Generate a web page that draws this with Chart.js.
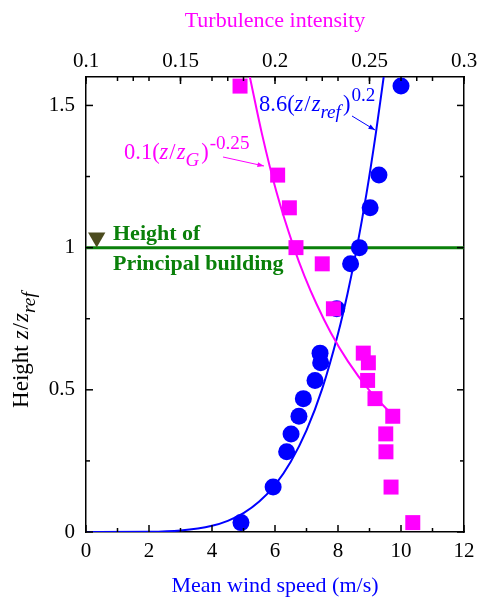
<!DOCTYPE html>
<html>
<head>
<meta charset="utf-8">
<script src="https://cdn.jsdelivr.net/npm/chart.js@4.4.1/dist/chart.umd.min.js"></script>
<style>
  html, body { margin: 0; padding: 0; background: #fff; }
  #wrap { width: 477px; height: 599px; }
</style>
</head>
<body>
<div id="wrap"><canvas id="profile" width="477" height="599"></canvas></div>
<script>
// Measured heights (z/zref), shared by both profiles
const heights = [0.033, 0.158, 0.282, 0.345, 0.407, 0.469, 0.533, 0.595, 0.629, 0.785, 0.943, 1.0, 1.14, 1.255, 1.568];
// Mean wind speed (m/s) at each height
const windSpeed = [4.92, 5.94, 6.37, 6.51, 6.76, 6.90, 7.27, 7.45, 7.43, 7.96, 8.40, 8.68, 9.02, 9.30, 10.00];
// Turbulence intensity at each height
const turbIntensity = [0.2729, 0.2614, 0.2587, 0.2586, 0.2623, 0.2529, 0.2490, 0.2494, 0.2467, 0.2309, 0.2250, 0.2111, 0.2076, 0.2014, 0.1815];

// Power-law fit curve: 8.6(z/zref)^0.2
const fitSpeed = [0, 2, 3, 4, 4.5, 5, 5.5, 6, 6.5, 7, 7.5, 8, 8.3, 8.6, 8.9, 9.2, 9.45];
const fitSpeedHeight = [0, 0.0007, 0.0052, 0.0218, 0.0392, 0.0664, 0.107, 0.165, 0.247, 0.357, 0.504, 0.697, 0.837, 1.0, 1.187, 1.401, 1.6];

// Turbulence fit curve: 0.1(z/zG)^-0.25
const fitTurb = [0.1867, 0.1931, 0.2006, 0.2100, 0.2156, 0.2221, 0.2296, 0.2386, 0.2497, 0.2609];
const fitTurbHeight = [1.6, 1.4, 1.2, 1.0, 0.9, 0.8, 0.7, 0.6, 0.5, 0.42];

// Principal building reference height
const buildingHeight = 1;
const markerPos = { x: 0.34, y: 1.036 };

const SERIF = '"Liberation Serif", "DejaVu Serif", serif';
const BLUE = '#0000ff';
const MAGENTA = '#ff00ff';
const GREEN = '#0a800a';

const toPts = (xs, ys) => xs.map((x, i) => ({ x, y: ys[i] }));

function richFont(p, size) {
    const s = p.sub || p.sup ? size * 0.85 : size;
    return `${p.i ? 'italic ' : ''}${s}px ${SERIF}`;
}

function richWidth(ctx, parts, size) {
    return parts.reduce((w, p) => { ctx.font = richFont(p, size); return w + ctx.measureText(p.t).width + (p.gap || 0); }, 0);
}

// Draw a run of text with italic / sub / sup pieces
function drawRich(ctx, x, y, parts, size, color) {
    ctx.fillStyle = color;
    ctx.textBaseline = 'alphabetic';
    ctx.textAlign = 'left';
    parts.forEach(p => {
        const dy = p.sub ? size * 0.3 : p.sup ? -size * 0.45 : 0;
        ctx.font = richFont(p, size);
        ctx.fillText(p.t, x, y + dy);
        x += ctx.measureText(p.t).width + (p.gap || 0);
    });
    return x;
}

function arrow(ctx, x1, y1, x2, y2, color) {
    const a = Math.atan2(y2 - y1, x2 - x1);
    ctx.strokeStyle = color;
    ctx.fillStyle = color;
    ctx.lineWidth = 1;
    ctx.beginPath(); ctx.moveTo(x1, y1); ctx.lineTo(x2, y2); ctx.stroke();
    ctx.beginPath();
    ctx.moveTo(x2, y2);
    ctx.lineTo(x2 - 7 * Math.cos(a - 0.35), y2 - 7 * Math.sin(a - 0.35));
    ctx.lineTo(x2 - 7 * Math.cos(a + 0.35), y2 - 7 * Math.sin(a + 0.35));
    ctx.closePath(); ctx.fill();
}

const zRef = [
    { t: 'z', i: true, gap: 1 }, { t: '/', gap: 1 }, { t: 'z', i: true }, { t: 'ref', i: true, sub: true, gap: 2 }
];

const decor = {
    id: 'decor',
    afterDraw(chart) {
        const { ctx, chartArea: a, scales } = chart;
        ctx.save();
        ctx.strokeStyle = '#000';
        ctx.lineWidth = 1.5;
        const seg = (x1, y1, x2, y2) => { ctx.beginPath(); ctx.moveTo(x1, y1); ctx.lineTo(x2, y2); ctx.stroke(); };

        // inward ticks: bottom axis, mirrored on top
        scales.x.ticks.forEach(t => {
            const px = scales.x.getPixelForValue(t.value);
            seg(px, a.bottom, px, a.bottom - (t.value % 2 === 0 ? 7 : 4));
            seg(px, a.top, px, a.top + 4);
        });
        scales.x2.ticks.forEach(t => {
            const px = scales.x2.getPixelForValue(t.value);
            const major = Math.round(t.value * 1000) % 50 === 0;
            seg(px, a.top, px, a.top + (major ? 7 : 4));
        });
        scales.y.ticks.forEach(t => {
            const py = scales.y.getPixelForValue(t.value);
            const len = Math.round(t.value * 100) % 50 === 0 ? 7 : 4;
            seg(a.left, py, a.left + len, py);
            seg(a.right, py, a.right - len, py);
        });

        // y title
        const yTitle = [{ t: 'Height', gap: 6 }, ...zRef];
        ctx.save();
        ctx.translate(28, 349);
        ctx.rotate(-Math.PI / 2);
        const w = richWidth(ctx, yTitle, 23);
        drawRich(ctx, -w / 2, 0, yTitle, 23, '#000');
        ctx.restore();

        // fit annotations
        drawRich(ctx, 259, 111, [
            { t: '8.6(' }, ...zRef, { t: ')', gap: 1 }, { t: '0.2', sup: true }
        ], 22.5, BLUE);
        arrow(ctx, 352, 116, 375, 130, BLUE);

        drawRich(ctx, 124, 159, [
            { t: '0.1(' }, { t: 'z', i: true, gap: 1 }, { t: '/', gap: 1 }, { t: 'z', i: true },
            { t: 'G', i: true, sub: true, gap: 2 }, { t: ')', gap: 1 }, { t: '-0.25', sup: true }
        ], 22.5, MAGENTA);
        arrow(ctx, 223, 157, 264, 166, MAGENTA);

        // building label
        ctx.font = `bold 22px ${SERIF}`;
        ctx.fillStyle = GREEN;
        ctx.textAlign = 'left';
        ctx.textBaseline = 'alphabetic';
        ctx.fillText('Height of', 113, 240);
        ctx.fillText('Principal building', 113, 270);
        ctx.restore();
    }
};

const tickFont = { family: SERIF, size: 21 };
const noPadH = s => { s.paddingLeft = 0; s.paddingRight = 0; };
const noPadV = s => { s.paddingTop = 0; s.paddingBottom = 0; };

new Chart(document.getElementById('profile').getContext('2d'), {
    type: 'scatter',
    data: {
        datasets: [
            {
                label: 'Building height',
                data: [{ x: 0, y: buildingHeight }, { x: 12, y: buildingHeight }],
                showLine: true, pointRadius: 0,
                borderColor: GREEN, borderWidth: 3,
                order: 6,
            },
            {
                label: 'Power law',
                data: toPts(fitSpeed, fitSpeedHeight),
                showLine: true, pointRadius: 0,
                borderColor: BLUE, borderWidth: 2,
                cubicInterpolationMode: 'monotone',
                order: 5,
            },
            {
                label: 'TI fit',
                xAxisID: 'x2',
                data: toPts(fitTurb, fitTurbHeight),
                showLine: true, pointRadius: 0,
                borderColor: MAGENTA, borderWidth: 2,
                cubicInterpolationMode: 'monotone',
                order: 4,
            },
            {
                label: 'Mean wind speed',
                data: toPts(windSpeed, heights),
                pointRadius: 8.5, pointStyle: 'circle',
                backgroundColor: BLUE, borderColor: BLUE, borderWidth: 0,
                order: 3,
            },
            {
                label: 'Turbulence intensity',
                xAxisID: 'x2',
                data: toPts(turbIntensity, heights),
                pointRadius: 10.6, pointStyle: 'rect',
                backgroundColor: MAGENTA, borderColor: MAGENTA, borderWidth: 0,
                order: 2,
            },
            {
                label: 'Marker',
                data: [markerPos],
                pointRadius: 10, pointStyle: 'triangle', rotation: 180,
                backgroundColor: '#4b4b1e', borderColor: '#4b4b1e', borderWidth: 0,
                order: 1,
            },
        ]
    },
    options: {
        responsive: false,
        animation: false,
        layout: { padding: 0 },
        plugins: { legend: { display: false }, tooltip: { enabled: false } },
        scales: {
            x: {
                type: 'linear', position: 'bottom', min: 0, max: 12,
                grid: { display: false },
                border: { display: true, color: '#000', width: 1.5 },
                ticks: {
                    stepSize: 1, autoSkip: false, maxRotation: 0, padding: -1,
                    font: tickFont, color: '#000',
                    callback: v => v % 2 === 0 ? String(v) : ''
                },
                title: {
                    display: true, text: 'Mean wind speed (m/s)', color: BLUE,
                    font: { family: SERIF, size: 22 }, padding: { bottom: 0 }
                },
                afterFit: s => { s.height = 67; noPadH(s); }
            },
            x2: {
                type: 'linear', position: 'top', min: 0.1, max: 0.3,
                grid: { display: false },
                border: { display: true, color: '#000', width: 1.5 },
                ticks: {
                    stepSize: 0.025, autoSkip: false, maxRotation: 0, padding: -5,
                    font: tickFont, color: '#000',
                    callback: v => Math.round(v * 1000) % 50 === 0 ? String(+v.toFixed(2)) : ''
                },
                title: {
                    display: true, text: 'Turbulence intensity', color: MAGENTA,
                    font: { family: SERIF, size: 22 }, padding: { top: 8 }
                },
                afterFit: s => { s.height = 77; noPadH(s); }
            },
            y: {
                type: 'linear', position: 'left', min: 0, max: 1.6,
                grid: { display: false },
                border: { display: true, color: '#000', width: 1.5 },
                ticks: {
                    stepSize: 0.25, includeBounds: false, autoSkip: false, padding: 3,
                    font: tickFont, color: '#000',
                    callback: v => Math.round(v * 100) % 50 === 0 ? String(+v.toFixed(1)) : ''
                },
                afterFit: s => { s.width = 86; noPadV(s); }
            },
            y2: {
                type: 'linear', position: 'right', min: 0, max: 1.6,
                grid: { display: false },
                border: { display: true, color: '#000', width: 1.5 },
                ticks: { display: false },
                afterFit: s => { s.width = 13; noPadV(s); }
            }
        }
    },
    plugins: [decor]
});
</script>
</body>
</html>
